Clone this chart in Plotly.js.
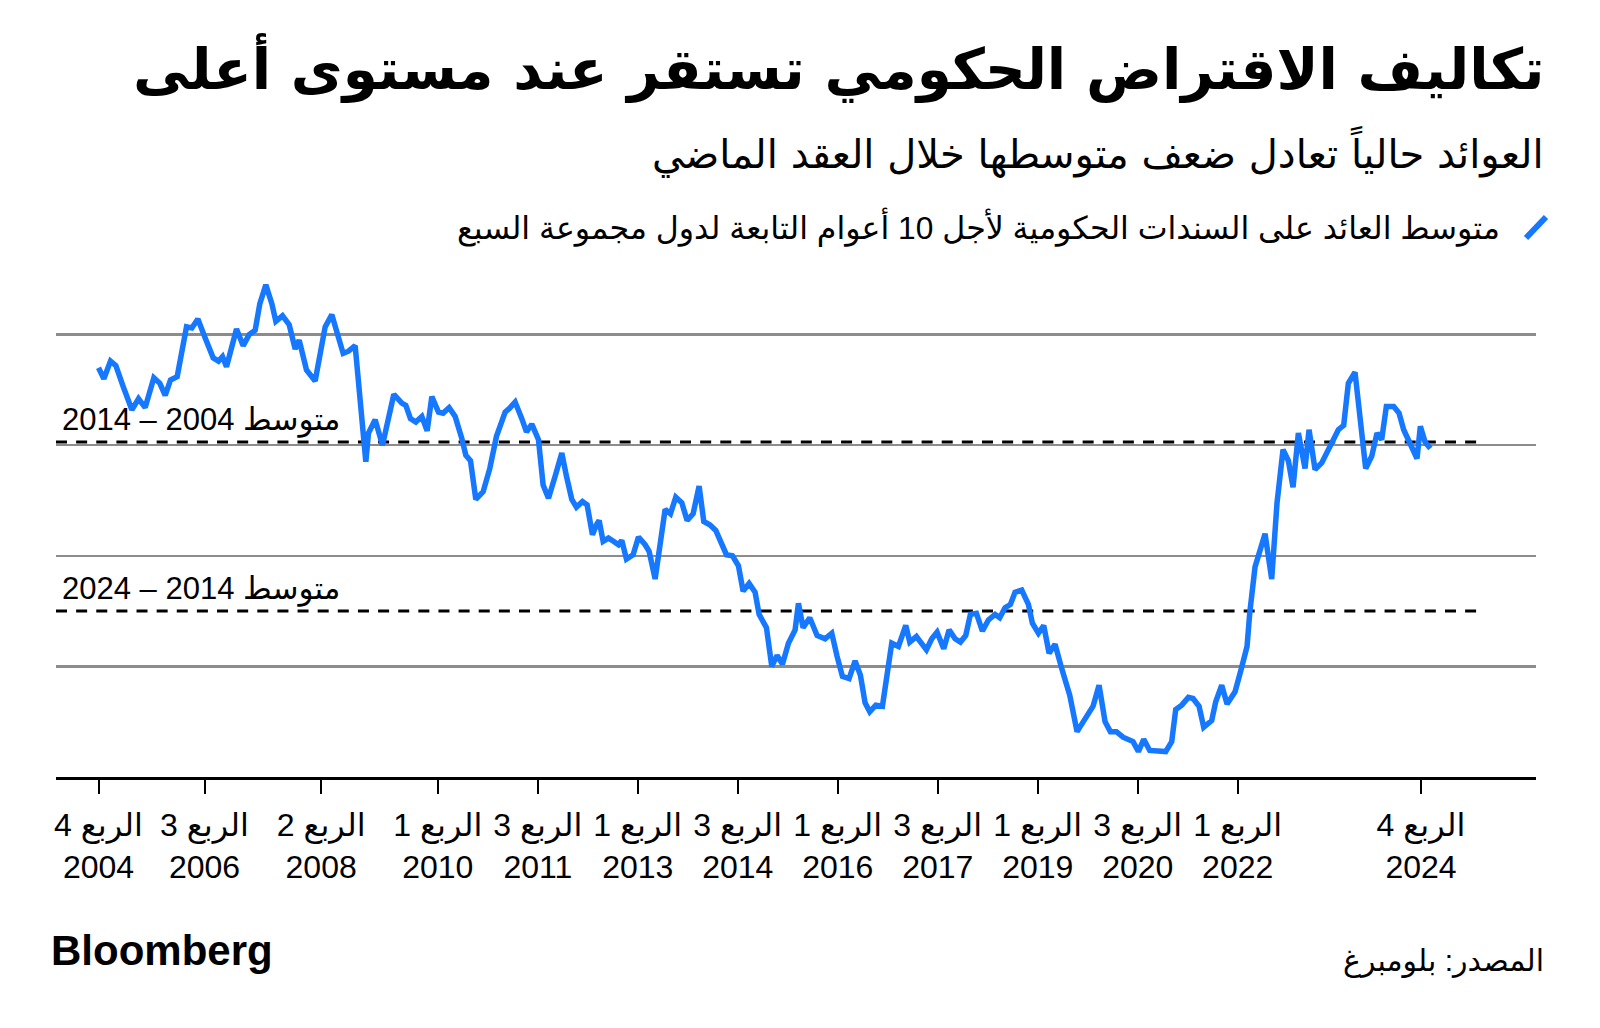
<!DOCTYPE html>
<html>
<head>
<meta charset="utf-8">
<script src="https://cdn.plot.ly/plotly-3.0.1.min.js"></script>
<style>
  html, body { margin: 0; padding: 0; background: #ffffff; }
  #chart { width: 1600px; height: 1028px; }
</style>
</head>
<body>
<div id="chart"></div>
<script>
// ---- Data (decimal year, average G7 10-year yield, %) ----
const dates = [
  2004.91, 2004.99, 2005.09, 2005.17, 2005.28, 2005.41, 2005.51, 2005.61, 2005.74, 2005.83,
  2005.91, 2005.99, 2006.09, 2006.23, 2006.31, 2006.40, 2006.51, 2006.63, 2006.71, 2006.77,
  2006.83, 2006.98, 2007.08, 2007.17, 2007.26, 2007.33, 2007.42, 2007.51, 2007.57, 2007.67,
  2007.77, 2007.86, 2007.92, 2008.03, 2008.16, 2008.31, 2008.41, 2008.58, 2008.66, 2008.76,
  2008.92, 2008.96, 2009.06, 2009.17, 2009.34, 2009.46, 2009.52, 2009.59, 2009.67, 2009.76,
  2009.84, 2009.91, 2010.01, 2010.08, 2010.17, 2010.26, 2010.36, 2010.42, 2010.49, 2010.57,
  2010.68, 2010.78, 2010.88, 2011.01, 2011.07, 2011.16, 2011.26, 2011.33, 2011.41, 2011.51,
  2011.58, 2011.66, 2011.76, 2011.86, 2011.93, 2012.01, 2012.08, 2012.17, 2012.24, 2012.32,
  2012.38, 2012.42, 2012.48, 2012.56, 2012.64, 2012.71, 2012.76, 2012.83, 2012.93, 2013.01,
  2013.11, 2013.17, 2013.26, 2013.33, 2013.41, 2013.49, 2013.57, 2013.66, 2013.74, 2013.83,
  2013.92, 2013.99, 2014.08, 2014.17, 2014.26, 2014.33, 2014.42, 2014.51, 2014.58, 2014.67,
  2014.76, 2014.82, 2014.93, 2015.01, 2015.09, 2015.17, 2015.26, 2015.36, 2015.41, 2015.48,
  2015.58, 2015.69, 2015.81, 2015.91, 2015.99, 2016.07, 2016.17, 2016.26, 2016.34, 2016.41,
  2016.48, 2016.57, 2016.67, 2016.74, 2016.81, 2016.91, 2017.02, 2017.08, 2017.18, 2017.33,
  2017.41, 2017.49, 2017.59, 2017.67, 2017.76, 2017.84, 2017.92, 2017.99, 2018.08, 2018.17,
  2018.26, 2018.36, 2018.43, 2018.51, 2018.59, 2018.66, 2018.76, 2018.86, 2018.92, 2019.01,
  2019.09, 2019.17, 2019.26, 2019.36, 2019.48, 2019.59, 2019.71, 2019.83, 2019.92, 2020.01,
  2020.09, 2020.18, 2020.28, 2020.43, 2020.51, 2020.59, 2020.68, 2020.81, 2020.92, 2021.01,
  2021.07, 2021.16, 2021.26, 2021.33, 2021.42, 2021.49, 2021.61, 2021.67, 2021.76, 2021.84,
  2021.96, 2022.05, 2022.14, 2022.18, 2022.26, 2022.41, 2022.51, 2022.59, 2022.68, 2022.76,
  2022.83, 2022.91, 2023.01, 2023.07, 2023.16, 2023.26, 2023.33, 2023.43, 2023.51, 2023.59,
  2023.66, 2023.76, 2023.83, 2023.92, 2024.01, 2024.09, 2024.16, 2024.23, 2024.34, 2024.42,
  2024.49, 2024.57, 2024.64, 2024.69, 2024.74, 2024.81, 2024.89
];
const yields = [
  3.70, 3.60, 3.76, 3.72, 3.53, 3.32, 3.42, 3.34, 3.61, 3.56,
  3.45, 3.59, 3.62, 4.07, 4.06, 4.14, 3.97, 3.79, 3.76, 3.80,
  3.71, 4.05, 3.90, 4.00, 4.04, 4.28, 4.45, 4.28, 4.12, 4.17,
  4.09, 3.87, 3.95, 3.68, 3.58, 4.07, 4.18, 3.83, 3.85, 3.90,
  2.85, 3.11, 3.23, 3.00, 3.46, 3.38, 3.36, 3.24, 3.21, 3.26,
  3.13, 3.44, 3.30, 3.29, 3.34, 3.26, 3.06, 2.91, 2.86, 2.51,
  2.58, 2.79, 3.08, 3.30, 3.33, 3.39, 3.24, 3.12, 3.19, 3.05,
  2.64, 2.52, 2.72, 2.93, 2.72, 2.51, 2.44, 2.49, 2.46, 2.19,
  2.28, 2.32, 2.13, 2.16, 2.13, 2.10, 2.14, 1.97, 2.01, 2.17,
  2.10, 2.04, 1.79, 2.07, 2.42, 2.38, 2.53, 2.48, 2.32, 2.38,
  2.63, 2.31, 2.28, 2.23, 2.11, 2.01, 2.00, 1.91, 1.68, 1.75,
  1.67, 1.47, 1.35, 1.00, 1.10, 1.02, 1.21, 1.33, 1.57, 1.35,
  1.44, 1.28, 1.25, 1.30, 1.09, 0.91, 0.89, 1.05, 0.92, 0.67,
  0.59, 0.65, 0.64, 0.92, 1.21, 1.18, 1.37, 1.22, 1.27, 1.15,
  1.25, 1.31, 1.16, 1.33, 1.25, 1.22, 1.28, 1.47, 1.48, 1.32,
  1.42, 1.47, 1.44, 1.53, 1.56, 1.67, 1.69, 1.56, 1.39, 1.30,
  1.37, 1.12, 1.20, 0.98, 0.74, 0.41, 0.52, 0.64, 0.83, 0.50,
  0.41, 0.41, 0.36, 0.32, 0.23, 0.34, 0.24, 0.24, 0.23, 0.32,
  0.61, 0.65, 0.72, 0.71, 0.64, 0.45, 0.51, 0.68, 0.83, 0.66,
  0.77, 0.97, 1.18, 1.48, 1.90, 2.20, 1.79, 2.48, 2.96, 2.86,
  2.62, 3.11, 2.79, 3.14, 2.78, 2.84, 2.93, 3.03, 3.14, 3.18,
  3.56, 3.66, 3.23, 2.79, 2.90, 3.11, 3.05, 3.35, 3.35, 3.29,
  3.14, 3.03, 2.96, 2.88, 3.17, 3.03, 2.97
];

// Period averages (dashed reference lines)
const avgLabels = ["متوسط 2004 – 2014", "متوسط 2014 – 2024"];
const avgValues = [3.03, 1.50];
const avgSpan = [2004.272, 2025.59];

// X-axis ticks
const tickDates = [2004.91, 2006.5, 2008.25, 2010.0, 2011.5, 2013.0, 2014.5, 2016.0, 2017.5, 2019.0, 2020.5, 2022.0, 2024.75];
const tickQuarters = ["الربع 4", "الربع 3", "الربع 2", "الربع 1", "الربع 3", "الربع 1", "الربع 3", "الربع 1", "الربع 3", "الربع 1", "الربع 3", "الربع 1", "الربع 4"];
const tickYears = ["2004", "2006", "2008", "2010", "2011", "2013", "2014", "2016", "2017", "2019", "2020", "2022", "2024"];

const titleText = "تكاليف الاقتراض الحكومي تستقر عند مستوى أعلى";
const subtitleText = "العوائد حالياً تعادل ضعف متوسطها خلال العقد الماضي";
const legendText = "متوسط العائد على السندات الحكومية لأجل 10 أعوام التابعة لدول مجموعة السبع";
const sourceText = "المصدر: بلومبرغ";

const BLUE = "#1677ff";
const FONT = "Liberation Sans, DejaVu Sans, sans-serif";

const traces = [];
avgValues.forEach(function (v) {
  traces.push({
    x: avgSpan, y: [v, v], type: "scatter", mode: "lines",
    line: { color: "#000000", width: 3, dash: "11px,9.13px" },
    hoverinfo: "skip", showlegend: false
  });
});
traces.push({
  x: dates, y: yields, type: "scatter", mode: "lines",
  line: { color: BLUE, width: 5.5, shape: "linear" },
  showlegend: false, hoverinfo: "x+y"
});

const annotations = [
  { text: "<b>" + titleText + "</b>", xref: "paper", yref: "paper", x: 1.0068, y: 1.379,
    xanchor: "right", yanchor: "middle", showarrow: false,
    font: { family: "DejaVu Sans, sans-serif", size: 56.5, color: "#000" } },
  { text: subtitleText, xref: "paper", yref: "paper", x: 1.0068, y: 1.216,
    xanchor: "right", yanchor: "middle", showarrow: false,
    font: { family: "DejaVu Sans, sans-serif", size: 40, color: "#000" } },
  { text: legendText, xref: "paper", yref: "paper", x: 0.977, y: 1.071,
    xanchor: "right", yanchor: "middle", showarrow: false,
    font: { family: FONT, size: 31.7, color: "#000" } },
  { text: avgLabels[0], xref: "paper", yref: "y", x: 0.003, y: 3.23,
    xanchor: "left", yanchor: "middle", showarrow: false,
    font: { family: FONT, size: 31, color: "#000" } },
  { text: avgLabels[1], xref: "paper", yref: "y", x: 0.003, y: 1.70,
    xanchor: "left", yanchor: "middle", showarrow: false,
    font: { family: FONT, size: 31, color: "#000" } },
  { text: "<b>Bloomberg</b>", xref: "paper", yref: "paper", x: -0.005, y: -0.337,
    xanchor: "left", yanchor: "middle", showarrow: false,
    font: { family: "Liberation Sans, Arial, sans-serif", size: 42, color: "#000" } },
  { text: sourceText, xref: "paper", yref: "paper", x: 1.0068, y: -0.358,
    xanchor: "right", yanchor: "middle", showarrow: false,
    font: { family: FONT, size: 30, color: "#000" } }
];

const shapes = [
  { type: "line", xref: "paper", yref: "paper",
    x0: (1526 - 56) / 1480, y0: (777 - 238) / 514,
    x1: (1546 - 56) / 1480, y1: (777 - 217) / 514,
    line: { color: BLUE, width: 6 } }
];

const layout = {
  width: 1600, height: 1028,
  margin: { l: 56, r: 64, t: 263, b: 251, pad: 0 },
  paper_bgcolor: "#ffffff", plot_bgcolor: "#ffffff",
  showlegend: false,
  font: { family: FONT, color: "#000" },
  xaxis: {
    type: "linear", range: [2004.272, 2026.475],
    tickmode: "array", tickvals: tickDates,
    ticktext: tickQuarters.map(function (q, i) { return q + "<br>" + tickYears[i]; }),
    ticks: "outside", ticklen: 14, tickwidth: 2, tickcolor: "#000",
    showline: true, linecolor: "#000", linewidth: 3,
    showgrid: false, zeroline: false,
    tickfont: { family: FONT, size: 32, color: "#000" },
    ticklabelstandoff: 4,
    fixedrange: true
  },
  yaxis: {
    range: [0, 4.6474], tickmode: "array", tickvals: [1, 2, 3, 4],
    showticklabels: false, ticks: "",
    showgrid: true, gridcolor: "#8c8c8c", gridwidth: 2.5,
    zeroline: false, showline: false, fixedrange: true
  },
  annotations: annotations,
  shapes: shapes
};

Plotly.newPlot("chart", traces, layout, { displayModeBar: false, staticPlot: true });
</script>
</body>
</html>
